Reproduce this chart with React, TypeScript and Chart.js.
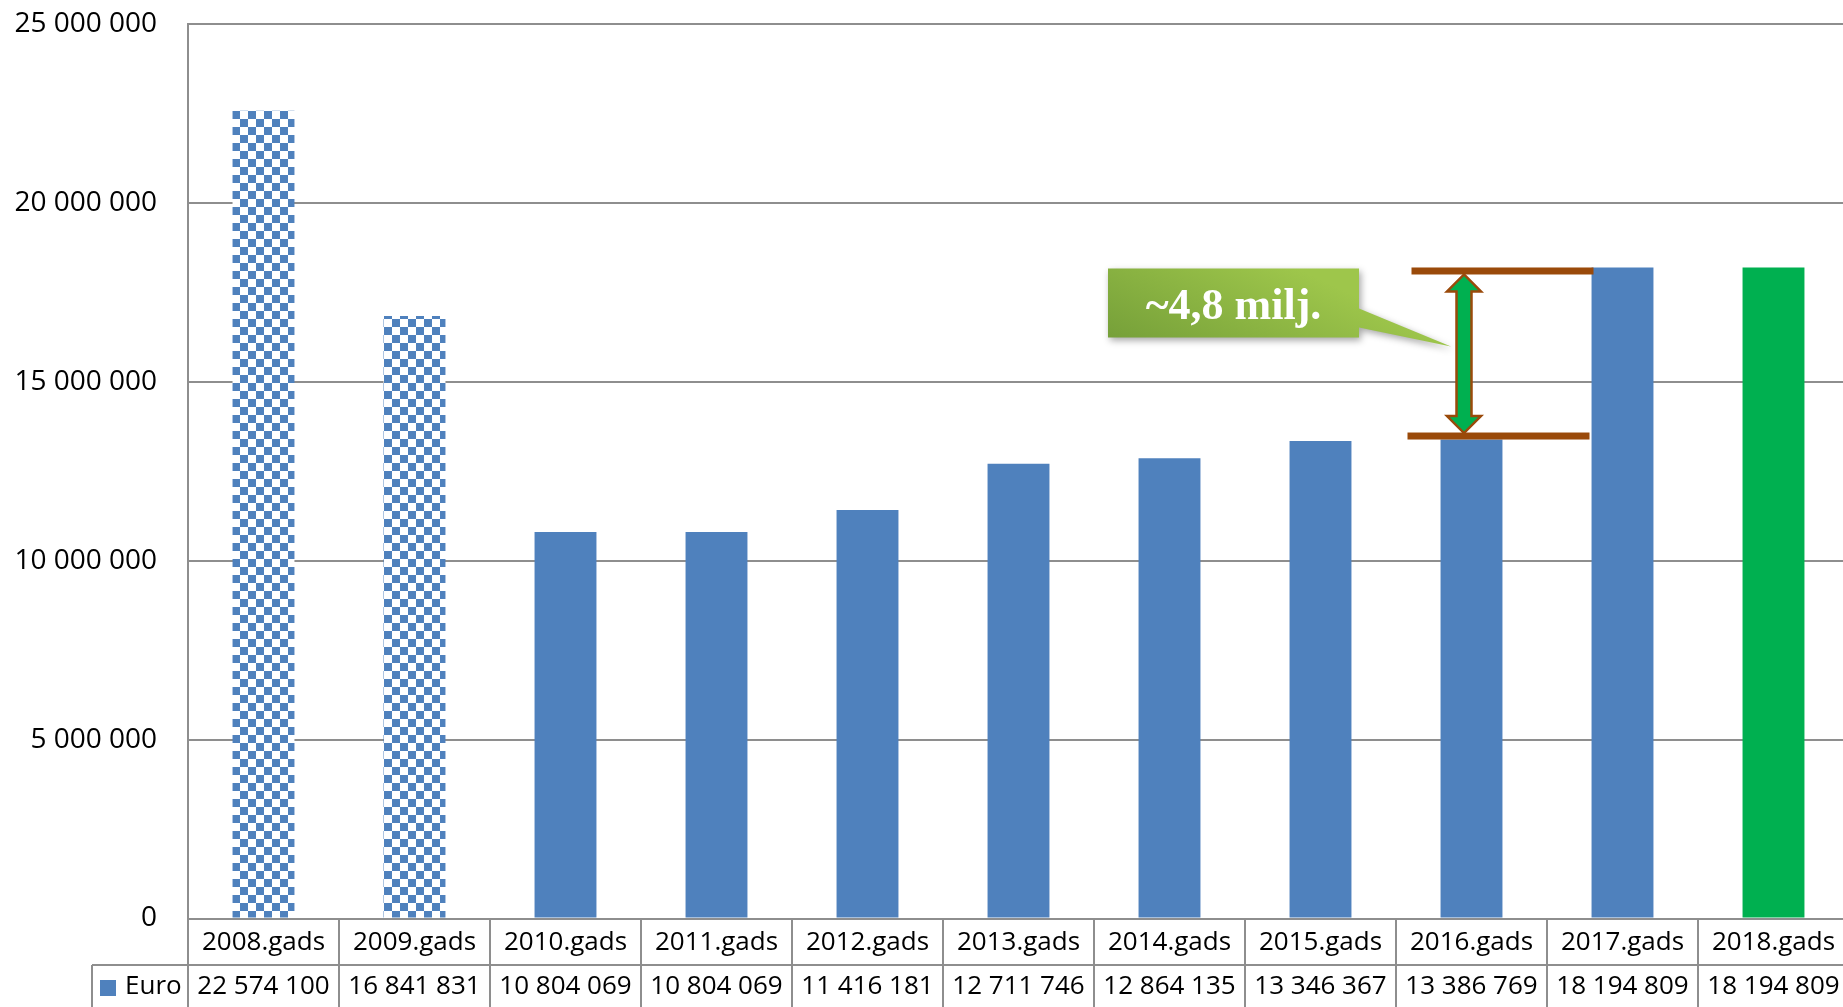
import React, { useEffect, useRef } from "react";
import { Chart, registerables } from "chart.js";

Chart.register(...registerables);

// ---- data ----
const categories = [
  "2008.gads", "2009.gads", "2010.gads", "2011.gads", "2012.gads", "2013.gads",
  "2014.gads", "2015.gads", "2016.gads", "2017.gads", "2018.gads",
];
const euroValues = [
  22574100, 16841831, 10804069, 10804069, 11416181, 12711746,
  12864135, 13346367, 13386769, 18194809, 18194809,
];
const seriesName = "Euro";
const yMin = 0;
const yMax = 25000000;
const yStep = 5000000;
const calloutText = "~4,8 milj.";
const gapFromIndex = 8; // 2016
const gapToIndex = 9; // 2017

const BLUE = "#4F81BD";
const GREEN = "#00B050";
const BROWN = "#9A4A0A";
const GRID = "#8E8E8E";
const FONT = "'Open Sans', 'Noto Sans', sans-serif";

function fmt(v: number): string {
  return String(v).replace(/\B(?=(\d{3})+(?!\d))/g, " ");
}

function makePattern(ctx: CanvasRenderingContext2D): CanvasPattern | string {
  const c = document.createElement("canvas");
  c.width = 16;
  c.height = 16;
  const p = c.getContext("2d")!;
  p.fillStyle = "#ffffff";
  p.fillRect(0, 0, 16, 16);
  p.fillStyle = BLUE;
  p.fillRect(0, 0, 8, 8);
  p.fillRect(8, 8, 8, 8);
  const pat = ctx.createPattern(c, "repeat");
  if (!pat) return BLUE;
  try {
    pat.setTransform(new DOMMatrix().translate(8, 15));
  } catch (e) {}
  return pat;
}

const tablePlugin = {
  id: "dataTable",
  afterDraw(chart: any) {
    const { ctx, chartArea, scales } = chart;
    const x = scales.x;
    const n = categories.length;
    const catW = (chartArea.right - chartArea.left) / n;
    const top = chartArea.bottom;
    const row1B = top + 46.5;
    const bottom = chart.height + 2;
    ctx.save();
    ctx.strokeStyle = GRID;
    ctx.lineWidth = 2;
    ctx.beginPath();
    ctx.moveTo(92, row1B);
    ctx.lineTo(chart.width, row1B);
    ctx.stroke();
    ctx.beginPath();
    ctx.moveTo(chartArea.left, top);
    ctx.lineTo(chartArea.left, bottom);
    ctx.moveTo(92, row1B);
    ctx.lineTo(92, bottom);
    for (let i = 1; i < n; i++) {
      const xx = chartArea.left + i * catW;
      ctx.moveTo(xx, top);
      ctx.lineTo(xx, bottom);
    }
    ctx.stroke();
    ctx.fillStyle = "#000";
    ctx.font = `26px ${FONT}`;
    ctx.textAlign = "center";
    ctx.textBaseline = "middle";
    for (let i = 0; i < n; i++) {
      const cx = x.getPixelForValue(i);
      ctx.fillText(categories[i], cx, top + 24);
      ctx.fillText(fmt(euroValues[i]), cx, row1B + 22);
    }
    ctx.fillStyle = BLUE;
    ctx.fillRect(100, 980, 16, 16);
    ctx.fillStyle = "#000";
    ctx.textAlign = "left";
    ctx.fillText(seriesName, 125, row1B + 22);
    ctx.restore();
  },
};

const calloutPlugin = {
  id: "gapCallout",
  afterDatasetsDraw(chart: any) {
    const { ctx, scales } = chart;
    const x = scales.x;
    const y = scales.y;
    const x8 = x.getPixelForValue(gapFromIndex);
    const yTop = y.getPixelForValue(euroValues[gapToIndex]);
    const yBot = y.getPixelForValue(euroValues[gapFromIndex]);
    ctx.save();
    ctx.fillStyle = BROWN;
    ctx.fillRect(x8 - 60, yTop, 182, 7);
    ctx.fillRect(x8 - 64, yBot - 7, 182, 7);
    const ax = x8 - 7.5;
    const tipT = yTop + 7;
    const tipB = yBot - 6.5;
    const hw = 17;
    const sw = 7.5;
    const hh = 17;
    ctx.beginPath();
    ctx.moveTo(ax, tipT);
    ctx.lineTo(ax + hw, tipT + hh);
    ctx.lineTo(ax + sw, tipT + hh);
    ctx.lineTo(ax + sw, tipB - hh);
    ctx.lineTo(ax + hw, tipB - hh);
    ctx.lineTo(ax, tipB);
    ctx.lineTo(ax - hw, tipB - hh);
    ctx.lineTo(ax - sw, tipB - hh);
    ctx.lineTo(ax - sw, tipT + hh);
    ctx.lineTo(ax - hw, tipT + hh);
    ctx.closePath();
    ctx.fillStyle = GREEN;
    ctx.fill();
    ctx.strokeStyle = BROWN;
    ctx.lineWidth = 2.5;
    ctx.lineJoin = "miter";
    ctx.stroke();
    const bx1 = x8 - 363.5;
    const bx2 = x8 - 112.5;
    const by1 = yTop + 1;
    const by2 = yTop + 70;
    const grad = ctx.createLinearGradient(bx1, by2, bx1 + 60, by1 - 60);
    grad.addColorStop(0, "#76A039");
    grad.addColorStop(1, "#9EC64B");
    ctx.shadowColor = "rgba(0,0,0,0.35)";
    ctx.shadowBlur = 7;
    ctx.shadowOffsetX = 2;
    ctx.shadowOffsetY = 3;
    ctx.beginPath();
    ctx.moveTo(bx1, by1);
    ctx.lineTo(bx2, by1);
    ctx.lineTo(bx2, by1 + 40);
    ctx.lineTo(ax - 13, yTop + 79);
    ctx.lineTo(bx2, by1 + 59);
    ctx.lineTo(bx2, by2);
    ctx.lineTo(bx1, by2);
    ctx.closePath();
    ctx.fillStyle = grad;
    ctx.fill();
    ctx.shadowColor = "transparent";
    ctx.fillStyle = "#ffffff";
    ctx.font = "bold 44px 'Liberation Serif', 'DejaVu Serif', serif";
    ctx.textAlign = "center";
    ctx.textBaseline = "alphabetic";
    ctx.fillText(calloutText, (bx1 + bx2) / 2, yTop + 52);
    ctx.restore();
  },
};

export default function App() {
  const ref = useRef<HTMLCanvasElement | null>(null);
  useEffect(() => {
    document.body.style.margin = "0";
    document.body.style.overflow = "hidden";
    const canvas = ref.current!;
    const ctx = canvas.getContext("2d")!;
    const pattern = makePattern(ctx);
    const n = categories.length;
    const chart = new Chart(canvas, {
      type: "bar",
      data: {
        labels: categories,
        datasets: [
          {
            label: seriesName,
            data: euroValues,
            backgroundColor: (c: any) =>
              c.dataIndex < 2 ? pattern : c.dataIndex === n - 1 ? GREEN : BLUE,
            borderWidth: 0,
            barPercentage: 0.41,
            categoryPercentage: 1,
          },
        ],
      },
      options: {
        animation: false,
        responsive: false,
        devicePixelRatio: 1,
        layout: { padding: { top: 24, bottom: 88.5, left: 0, right: 0 } },
        plugins: { legend: { display: false }, tooltip: { enabled: false } },
        scales: {
          x: { display: false },
          y: {
            min: yMin,
            max: yMax,
            afterFit: (s: any) => {
              s.width = 188;
              s.paddingTop = 0;
              s.paddingBottom = 0;
            },
            ticks: {
              stepSize: yStep,
              padding: 31,
              color: "#000",
              font: { family: FONT, size: 28 },
              callback: (v: any) => fmt(Number(v)),
            },
            grid: { color: GRID, lineWidth: 2, drawTicks: false },
            border: { display: true, color: GRID, width: 2 },
          },
        },
      },
      plugins: [calloutPlugin, tablePlugin],
    });
    return () => chart.destroy();
  }, []);
  return (
    <div style={{ width: 1843, height: 1007, overflow: "hidden", background: "#fff" }}>
      <canvas ref={ref} width={1849} height={1007} style={{ display: "block" }} />
    </div>
  );
}
